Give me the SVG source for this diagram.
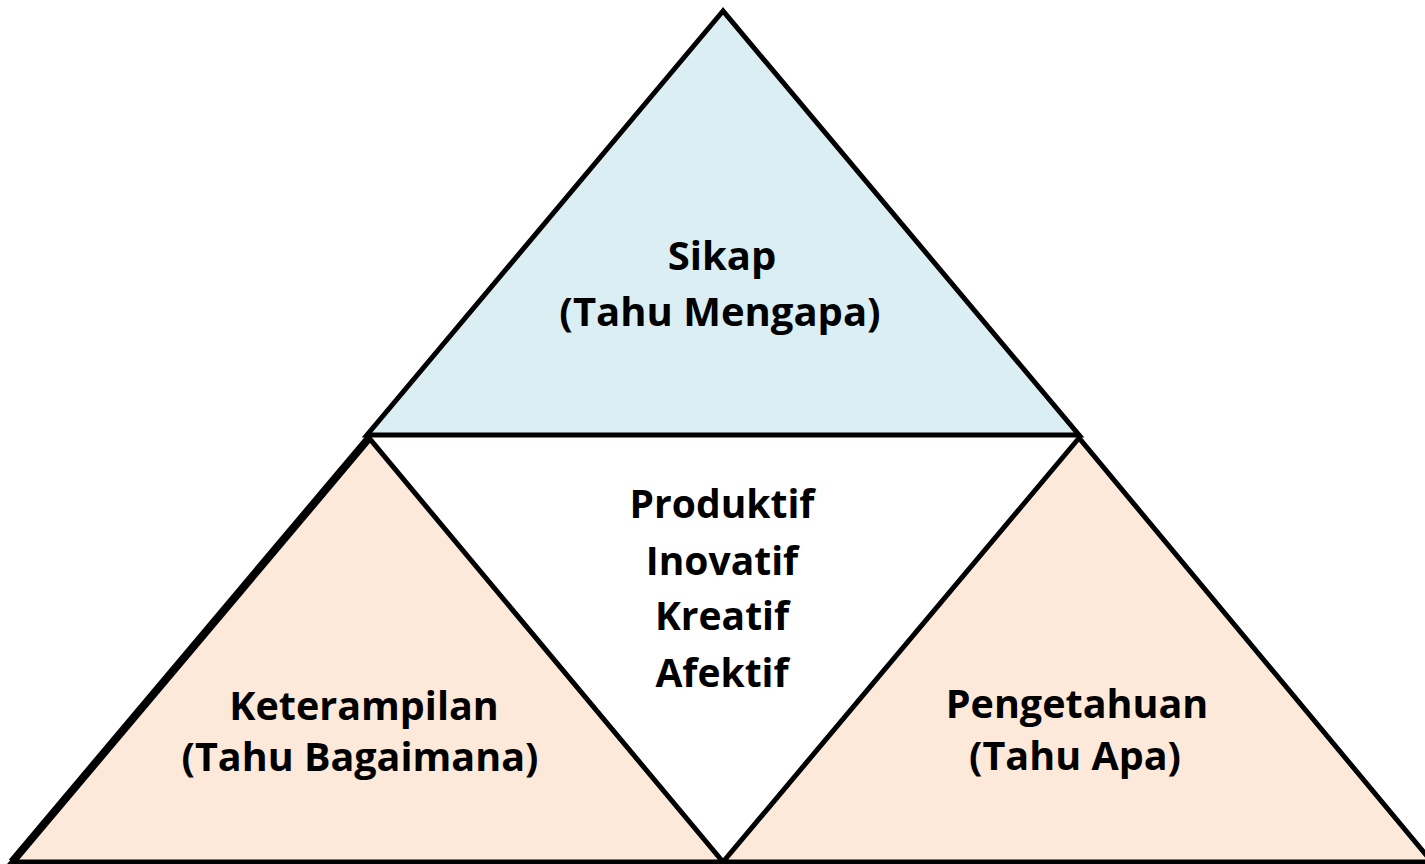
<svg xmlns="http://www.w3.org/2000/svg" width="1425" height="864" viewBox="0 0 1425 864">
<style>
.tri{stroke:#000;stroke-width:5;stroke-linejoin:miter}
.blue{fill:#DAEEF3}
.peach{fill:#FDE9D9}
.lbl{font-family:"Open Sans","Noto Sans","Liberation Sans",sans-serif;font-weight:700;font-size:39.5px;fill:#000;text-anchor:middle}
.big{font-size:40px}
.mid{font-size:39px}
</style>
<rect width="1425" height="864" fill="#fff"/>
<g id="sikap">
<polygon class="tri blue" points="723,11 367,435 1079,435"/>
<text class="lbl big" x="722" y="270">Sikap</text>
<text class="lbl big" x="720" y="326">(Tahu Mengapa)</text>
</g>
<g id="keterampilan">
<polygon class="tri peach" points="369,438 12,862 723,862"/>
<line x1="369" y1="438" x2="12" y2="862" stroke="#000" stroke-width="8"/>
<text class="lbl" x="364" y="720">Keterampilan</text>
<text class="lbl" x="360" y="771">(Tahu Bagaimana)</text>
</g>
<g id="pengetahuan">
<polygon class="tri peach" points="1079,438 723,862 1432,862"/>
<text class="lbl" x="1077" y="718">Pengetahuan</text>
<text class="lbl" x="1075" y="770">(Tahu Apa)</text>
</g>
<g id="tengah">
<text class="lbl mid" x="722" y="518">Produktif</text>
<text class="lbl mid" x="722" y="575">Inovatif</text>
<text class="lbl mid" x="722" y="630">Kreatif</text>
<text class="lbl mid" x="722" y="687">Afektif</text>
</g>
<g id="connectors"/>
</svg>
